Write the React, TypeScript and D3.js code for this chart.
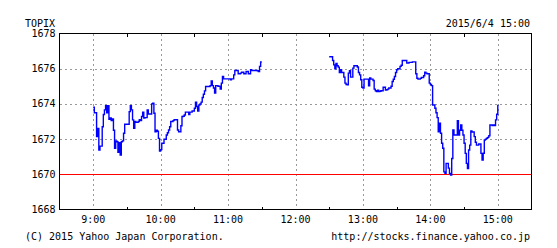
import React from "react";
import * as d3 from "d3";

const title = "TOPIX";
const stamp = "2015/6/4 15:00";
const copyright = "(C) 2015 Yahoo Japan Corporation.";
const url = "http://stocks.finance.yahoo.co.jp";

const xTickMinutes = [0, 60, 120, 180, 240, 300, 360];
const xTickLabels = ["9:00", "10:00", "11:00", "12:00", "13:00", "14:00", "15:00"];
const halfHourMinutes = [0, 30, 60, 90, 120, 150, 180, 210, 240, 270, 300, 330, 360];
const yTicks = [1668, 1670, 1672, 1674, 1676, 1678];
const baseValue = 1670;

// minutes from 9:00, one value per minute
const morningStart = 0;
const morningValues = [
  1673.81, 1673.5, 1673.5, 1672.14, 1672.6, 1671.38, 1671.6, 1671.6, 1672.7, 1673.4,
  1673.66, 1673.9, 1673.5, 1673.9, 1673.13, 1673.2, 1673.05, 1673.15, 1672.5, 1671.48,
  1671.9, 1671.85, 1671.25, 1671.8, 1671.1, 1671.85, 1671.9, 1672.33, 1672.84, 1672.84,
  1672.84, 1672.84, 1673.56, 1673.9, 1673.66, 1673.09, 1672.62, 1673.0, 1672.95, 1672.95,
  1673.0, 1673.1, 1673.05, 1673.28, 1673.53, 1673.19, 1673.22, 1673.22, 1673.66, 1673.43,
  1673.43, 1673.43, 1674.0, 1674.04, 1673.47, 1672.42, 1672.5, 1672.45, 1672.04, 1671.32,
  1671.4, 1671.76, 1671.76, 1671.99, 1671.99, 1672.23, 1672.36, 1672.52, 1672.7, 1673.0,
  1673.0, 1673.05, 1673.1, 1673.1, 1673.1, 1672.52, 1672.42, 1672.42, 1672.76, 1673.28,
  1673.3, 1673.37, 1673.53, 1673.53, 1673.53, 1673.4, 1673.53, 1673.53, 1673.6, 1673.6,
  1673.75, 1674.1, 1673.85, 1673.6, 1673.94, 1674.0, 1674.1, 1674.36, 1674.55, 1674.74,
  1674.99, 1674.99, 1674.99, 1674.99, 1675.04, 1675.31, 1675.04, 1674.9, 1674.61, 1675.04,
  1675.04, 1675.0, 1675.0, 1674.84, 1675.18, 1675.56, 1675.42, 1675.42, 1675.42, 1675.42,
  1675.42, 1675.42, 1675.37, 1675.42, 1675.42, 1675.65, 1675.9, 1675.9, 1675.9, 1675.71,
  1675.71, 1675.75, 1675.8, 1675.8, 1675.71, 1675.71, 1675.84, 1675.84, 1675.71, 1675.71,
  1675.94, 1675.9, 1675.9, 1675.9, 1675.9, 1675.9, 1675.88, 1675.84, 1676.13, 1676.38,
  1676.38,
];

const afternoonStart = 210;
const afternoonValues = [
  1676.68, 1676.68, 1676.68, 1676.47, 1676.22, 1676.0, 1676.3, 1676.17, 1676.09, 1675.78,
  1675.95, 1675.78, 1675.78, 1675.52, 1675.18, 1675.1, 1675.08, 1675.75, 1675.88, 1675.52,
  1675.52, 1676.03, 1676.17, 1676.17, 1676.17, 1676.1, 1675.78, 1675.65, 1675.37, 1674.95,
  1674.9, 1675.41, 1675.41, 1675.41, 1675.41, 1675.03, 1675.48, 1675.41, 1675.41, 1675.33,
  1674.84, 1674.75, 1674.7, 1674.78, 1674.7, 1674.72, 1674.75, 1674.75, 1674.95, 1674.95,
  1674.78, 1674.8, 1674.84, 1674.9, 1674.9, 1675.0, 1675.27, 1675.4, 1675.56, 1675.78,
  1675.94, 1676.0, 1676.0, 1676.13, 1676.2, 1676.47, 1676.47, 1676.47, 1676.47, 1676.32,
  1676.32, 1676.36, 1676.36, 1676.36, 1676.39, 1676.39, 1676.39, 1675.71, 1675.46, 1675.41,
  1675.41, 1675.45, 1675.5, 1675.5, 1675.6, 1675.8, 1675.75, 1675.71, 1675.71, 1675.18,
  1675.1, 1675.04, 1673.94, 1673.94, 1673.75, 1673.5, 1673.22, 1672.42, 1672.9, 1672.33,
  1671.76, 1671.48, 1670.14, 1670.05, 1670.62, 1670.62, 1670.35, 1670.05, 1669.96, 1670.9,
  1672.52, 1672.23, 1672.23, 1672.23, 1673.05, 1672.23, 1672.5, 1672.8, 1672.5, 1672.23,
  1671.76, 1671.19, 1670.62, 1670.33, 1671.38, 1671.66, 1672.46, 1672.4, 1672.4, 1672.14,
  1671.82, 1671.66, 1671.66, 1671.72, 1671.72, 1671.19, 1670.81, 1671.2, 1671.95, 1672.0,
  1672.05, 1672.1, 1672.19, 1672.8, 1672.8, 1672.77, 1672.8, 1672.77, 1673.09, 1673.41,
  1673.95,
];

const W = 557;
const H = 248;
const left = 59.5;
const right = 531.5;
const top = 33.5;
const bottom = 209.5;
const font = "'DejaVu Sans Mono', monospace";

export default function App() {
  const x = d3.scaleLinear().domain([-30, 390]).range([left, right]);
  const y = d3.scaleLinear().domain([1668, 1678]).range([bottom, top]);

  const line = d3
    .line<[number, number]>()
    .x((d) => x(d[0]))
    .y((d) => y(d[1]))
    .curve(d3.curveStepAfter);

  const morning: [number, number][] = morningValues.map((v, i) => [morningStart + i, v]);
  const afternoon: [number, number][] = afternoonValues.map((v, i) => [afternoonStart + i, v]);

  const gridColor = "#999";

  return (
    <svg
      width={W}
      height={H}
      style={{ position: "absolute", left: 0, top: 0, background: "#fff" }}
    >
      <rect x={0} y={0} width={W} height={H} fill="#fff" />
      {/* horizontal grid */}
      {yTicks
        .filter((t) => t !== 1668 && t !== 1678 && t !== baseValue)
        .map((t) => (
          <line
            key={"hg" + t}
            x1={left}
            x2={right}
            y1={Math.round(y(t)) + 0.5}
            y2={Math.round(y(t)) + 0.5}
            stroke={gridColor}
            strokeDasharray="2,3"
            shapeRendering="crispEdges"
          />
        ))}
      {/* vertical grid */}
      {xTickMinutes.map((m) => (
        <line
          key={"vg" + m}
          x1={Math.round(x(m)) + 0.5}
          x2={Math.round(x(m)) + 0.5}
          y1={top}
          y2={bottom}
          stroke={gridColor}
          strokeDasharray="2,3"
          shapeRendering="crispEdges"
        />
      ))}
      {/* half-hour ticks */}
      {halfHourMinutes
        .filter((m) => m % 60 !== 0)
        .map((m) => (
          <g key={"ht" + m}>
            <line
              x1={Math.round(x(m)) + 0.5}
              x2={Math.round(x(m)) + 0.5}
              y1={top}
              y2={top + 3}
              stroke="#000"
              shapeRendering="crispEdges"
            />
            <line
              x1={Math.round(x(m)) + 0.5}
              x2={Math.round(x(m)) + 0.5}
              y1={bottom - 3}
              y2={bottom}
              stroke="#000"
              shapeRendering="crispEdges"
            />
          </g>
        ))}
      {/* base line */}
      <line
        x1={left}
        x2={right}
        y1={Math.round(y(baseValue)) + 0.5}
        y2={Math.round(y(baseValue)) + 0.5}
        stroke="#ff0000"
        shapeRendering="crispEdges"
      />
      {/* frame */}
      <rect
        x={left}
        y={top}
        width={right - left}
        height={bottom - top}
        fill="none"
        stroke="#000"
        shapeRendering="crispEdges"
      />
      {/* series */}
      <path d={line(morning) || ""} fill="none" stroke="#0000ff" strokeWidth={1.4} />
      <path d={line(afternoon) || ""} fill="none" stroke="#0000ff" strokeWidth={1.4} />
      {/* y labels */}
      {yTicks.map((t) => (
        <text
          key={"yl" + t}
          x={55.5}
          y={y(t) + 3.5}
          textAnchor="end"
          fontFamily={font}
          fontSize={10}
          fill="#000"
        >
          {t}
        </text>
      ))}
      {/* x labels */}
      {xTickMinutes.map((m, i) => (
        <text
          key={"xl" + m}
          x={x(m)}
          y={223}
          textAnchor="middle"
          fontFamily={font}
          fontSize={10}
          fill="#000"
        >
          {xTickLabels[i]}
        </text>
      ))}
      <text x={25} y={26.5} fontFamily={font} fontSize={10} fill="#000">
        {title}
      </text>
      <text x={530} y={26.5} textAnchor="end" fontFamily={font} fontSize={10} fill="#000">
        {stamp}
      </text>
      <text x={25} y={240} fontFamily={font} fontSize={10} fill="#000">
        {copyright}
      </text>
      <text x={530} y={240} textAnchor="end" fontFamily={font} fontSize={10} fill="#000">
        {url}
      </text>
    </svg>
  );
}
